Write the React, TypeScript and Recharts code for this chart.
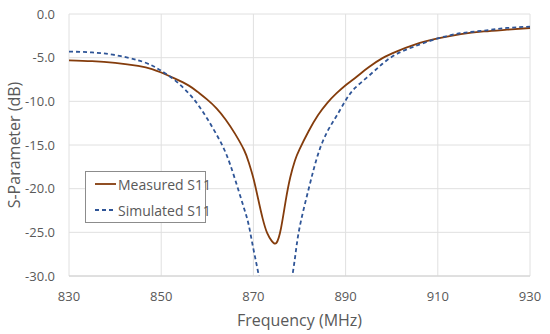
import React from "react";
import { LineChart, Line, XAxis, YAxis, CartesianGrid, Legend, Label } from "recharts";

const frequencies = [830, 835, 840, 845, 848, 850, 853, 856, 858, 860, 862, 864, 866, 868, 869, 870, 871, 872, 873, 874, 875, 876, 877, 878, 879, 880, 882, 884, 886, 888, 890, 892, 895, 898, 901, 905, 910, 915, 920, 925, 930];
const measuredS11 = [-5.3, -5.4, -5.6, -5.95, -6.3, -6.7, -7.4, -8.2, -8.95, -9.8, -10.8, -12.1, -13.7, -15.6, -17.0, -18.8, -21.1, -23.4, -25.1, -26.0, -26.2, -24.5, -21.4, -18.7, -16.8, -15.5, -13.4, -11.6, -10.2, -9.1, -8.15, -7.35, -6.1, -5.05, -4.3, -3.5, -2.8, -2.3, -2.0, -1.8, -1.6];
const simulatedS11 = [-4.3, -4.4, -4.7, -5.3, -5.9, -6.5, -7.6, -9.1, -10.4, -12.0, -13.8, -15.9, -18.9, -22.3, -24.2, -26.9, -29.5, -32.5, -35.5, -38.5, -40.0, -38.5, -35.0, -31.5, -28.0, -24.5, -20.0, -16.1, -13.5, -11.7, -9.9, -8.5, -7.1, -5.7, -4.6, -3.7, -2.8, -2.2, -1.9, -1.6, -1.45];
const xTicks = [830, 850, 870, 890, 910, 930];
const yTicks = [-30, -25, -20, -15, -10, -5, 0];
const seriesNames = ["Measured S11", "Simulated S11"];

const data = frequencies.map((f, i) => ({ f, measured: measuredS11[i], simulated: simulatedS11[i] }));

const FONT = "'Open Sans', 'Liberation Sans', sans-serif";
const TEXT = "#595959";
const MEAS = "#843C0C";
const SIM = "#2F5597";

const LegendBox = () => (
  <div
    style={{
      width: 119,
      height: 50,
      border: "1px solid #8c8c8c",
      background: "#fff",
      fontFamily: FONT,
      fontSize: 14,
      color: TEXT,
      position: "relative",
      boxSizing: "content-box",
    }}
  >
    {[0, 1].map((i) => (
      <div key={i} style={{ position: "absolute", left: 9, top: i === 0 ? 3 : 29, height: 18, display: "flex", alignItems: "center" }}>
        <svg width={22} height={4} style={{ display: "block" }}>
          <line x1={0} y1={2} x2={21} y2={2} stroke={i === 0 ? MEAS : SIM} strokeWidth={1.8} strokeDasharray={i === 0 ? undefined : "4 3"} />
        </svg>
        <span style={{ marginLeft: 1, whiteSpace: "nowrap" }}>{seriesNames[i]}</span>
      </div>
    ))}
  </div>
);

export default function App() {
  return (
    <div style={{ width: 550, height: 334, background: "#fff" }}>
      <style>{`body{margin:0}`}</style>
      <LineChart width={550} height={334} data={data} margin={{ top: 14, right: 20, bottom: 0, left: 0 }}>
        <CartesianGrid stroke="#e0e0e0" strokeWidth={1} />
        <XAxis
          type="number"
          dataKey="f"
          domain={[830, 930]}
          ticks={xTicks}
          tickLine={false}
          axisLine={{ stroke: "#d0d0d0" }}
          tick={{ fill: TEXT, fontSize: 13, fontFamily: FONT }}
          tickMargin={10}
          height={58}
          allowDataOverflow
        >
          <Label value="Frequency (MHz)" position="insideBottom" offset={8} style={{ fill: TEXT, fontSize: 16, fontFamily: FONT }} />
        </XAxis>
        <YAxis
          type="number"
          domain={[-30, 0]}
          ticks={yTicks}
          tickFormatter={(v: number) => v.toFixed(1)}
          tickLine={false}
          axisLine={false}
          tick={{ fill: TEXT, fontSize: 13, fontFamily: FONT }}
          tickMargin={8}
          width={69}
          allowDataOverflow
        >
          <Label value="S-Parameter (dB)" angle={-90} position="insideLeft" offset={14} style={{ fill: TEXT, fontSize: 16, fontFamily: FONT, textAnchor: "middle" }} />
        </YAxis>
        <Legend
          layout="vertical"
          align="center"
          verticalAlign="middle"
          content={() => <LegendBox />}
          wrapperStyle={{ position: "absolute", left: 85, top: 171, width: 121, height: 52 }}
        />
        <Line type="natural" dataKey="measured" name={seriesNames[0]} stroke={MEAS} strokeWidth={1.8} dot={false} isAnimationActive={false} />
        <Line type="natural" dataKey="simulated" name={seriesNames[1]} stroke={SIM} strokeWidth={1.8} strokeDasharray="4 3" dot={false} isAnimationActive={false} />
      </LineChart>
    </div>
  );
}
